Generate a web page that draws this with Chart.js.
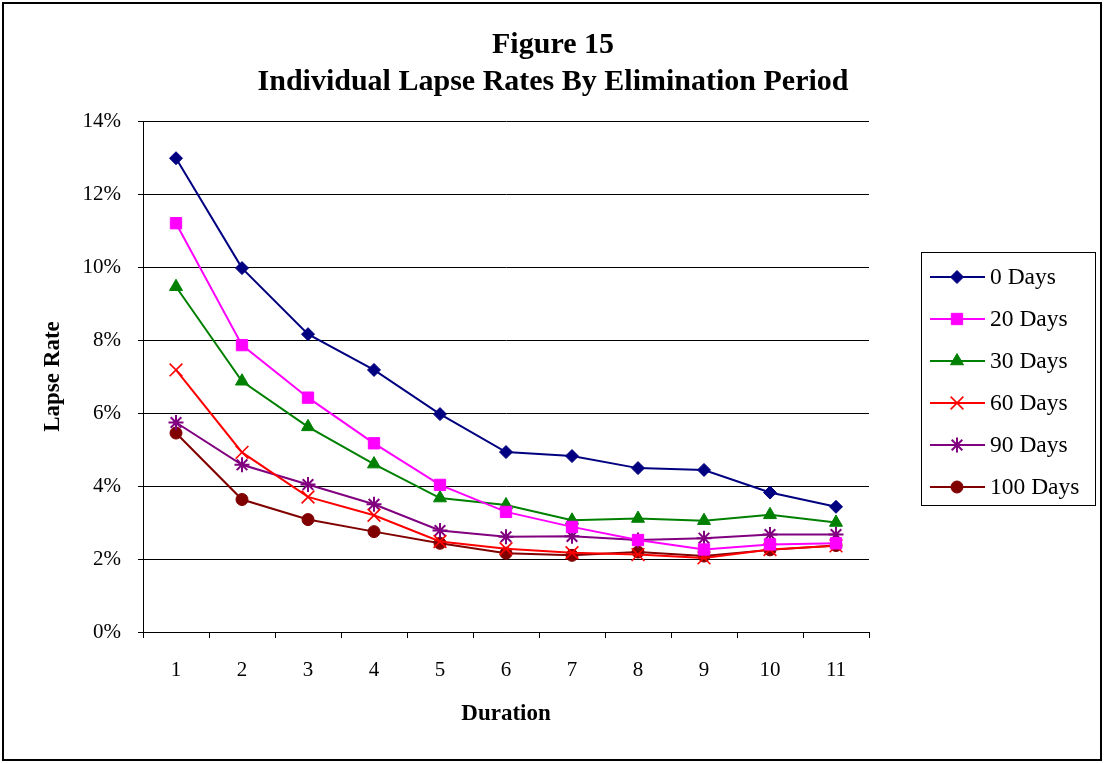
<!DOCTYPE html>
<html>
<head>
<meta charset="utf-8">
<script src="https://cdn.jsdelivr.net/npm/chart.js@4/dist/chart.umd.min.js"></script>
<style>
  html, body { margin: 0; padding: 0; background: #fff; }
  #wrap { width: 1104px; height: 763px; position: relative; }
</style>
</head>
<body>
<div id="wrap"><canvas id="c" width="1104" height="763"></canvas></div>
<script>
// Policy duration (years)
const durations = ['1', '2', '3', '4', '5', '6', '7', '8', '9', '10', '11'];

// Lapse rates (%) by elimination period
const days0   = [12.98, 9.97, 8.16, 7.18, 5.97, 4.93, 4.82, 4.49, 4.44, 3.82, 3.43];
const days20  = [11.20, 7.86, 6.42, 5.17, 4.03, 3.29, 2.88, 2.52, 2.26, 2.40, 2.43];
const days30  = [9.46, 6.87, 5.62, 4.60, 3.67, 3.48, 3.06, 3.11, 3.05, 3.21, 3.00];
const days60  = [7.18, 4.92, 3.70, 3.20, 2.48, 2.28, 2.17, 2.12, 2.03, 2.26, 2.36];
const days90  = [5.74, 4.58, 4.04, 3.50, 2.78, 2.61, 2.62, 2.52, 2.57, 2.67, 2.67];
const days100 = [5.45, 3.63, 3.08, 2.75, 2.43, 2.16, 2.10, 2.19, 2.08, 2.25, 2.37];

const seriesNames = ['0 Days', '20 Days', '30 Days', '60 Days', '90 Days', '100 Days'];
const yTicks = [0, 2, 4, 6, 8, 10, 12, 14];

const FONT = "'Liberation Serif', 'Times New Roman', serif";

const styles = [
  { color: '#000080', point: 'rectRot',  radius: 6.5, bw: 1 },
  { color: '#FF00FF', point: 'rect',     radius: 8,   bw: 1 },
  { color: '#008000', point: 'triangle', radius: 7.5, bw: 1 },
  { color: '#FF0000', point: 'crossRot', radius: 9,   bw: 1.6 },
  { color: '#800080', point: 'star',     radius: 7.5, bw: 2 },
  { color: '#800000', point: 'circle',   radius: 6,   bw: 1 }
];

const values = [days0, days20, days30, days60, days90, days100];

const datasets = values.map((v, i) => ({
  label: seriesNames[i],
  data: v,
  borderColor: styles[i].color,
  backgroundColor: styles[i].color,
  borderWidth: 2,
  pointStyle: styles[i].point,
  pointRadius: styles[i].radius,
  pointBorderWidth: styles[i].bw,
  pointBackgroundColor: styles[i].color,
  pointBorderColor: styles[i].color,
  tension: 0,
  fill: false
}));

// Frame, titles and boxed legend drawn around the chart area
const decor = {
  id: 'decor',
  beforeDraw(chart) {
    const ctx = chart.ctx;
    ctx.save();
    ctx.fillStyle = '#fff';
    ctx.fillRect(0, 0, chart.width, chart.height);
    ctx.strokeStyle = '#000';
    ctx.lineWidth = 2;
    ctx.strokeRect(3, 3, chart.width - 6, chart.height - 6);
    ctx.restore();
  },
  afterDraw(chart) {
    const ctx = chart.ctx;
    ctx.save();
    // titles
    ctx.fillStyle = '#000';
    ctx.textAlign = 'center';
    ctx.textBaseline = 'middle';
    ctx.font = 'bold 30px ' + FONT;
    ctx.fillText('Figure 15', 553, 45);
    ctx.fillText('Individual Lapse Rates By Elimination Period', 553, 82);

    // legend box
    const lx = 921, ly = 252, lw = 174, lh = 253;
    ctx.strokeStyle = '#000';
    ctx.lineWidth = 1;
    ctx.strokeRect(lx + 0.5, ly + 0.5, lw, lh);
    ctx.font = '23.5px ' + FONT;
    ctx.textAlign = 'left';
    chart.data.datasets.forEach((ds, i) => {
      const y = 277 + i * 42;
      ctx.strokeStyle = ds.borderColor;
      ctx.fillStyle = ds.borderColor;
      ctx.lineWidth = 2;
      ctx.beginPath();
      ctx.moveTo(930, y);
      ctx.lineTo(985, y);
      ctx.stroke();
      ctx.lineWidth = ds.pointBorderWidth;
      Chart.helpers.drawPoint(ctx, {
        pointStyle: ds.pointStyle,
        radius: ds.pointRadius,
        rotation: 0,
        borderWidth: ds.pointBorderWidth
      }, 957, y);
      ctx.fillStyle = '#000';
      ctx.textBaseline = 'middle';
      ctx.fillText(ds.label, 990, y + 1);
    });
    ctx.restore();
  }
};

new Chart(document.getElementById('c'), {
  type: 'line',
  data: { labels: durations, datasets },
  plugins: [decor],
  options: {
    responsive: false,
    animation: false,
    devicePixelRatio: 1,
    layout: { padding: { top: 121, right: 235, bottom: 10, left: 10 } },
    plugins: {
      legend: { display: false },
      title: { display: false },
      tooltip: { enabled: false }
    },
    scales: {
      x: {
        type: 'category',
        offset: true,
        afterFit(scale) { scale.height = 121; },
        grid: {
          display: true,
          offset: true,
          drawOnChartArea: false,
          drawTicks: true,
          tickLength: 6,
          color: '#000',
          lineWidth: 1
        },
        border: { display: true, color: '#000', width: 1 },
        ticks: {
          color: '#000',
          padding: 20,
          maxRotation: 0,
          font: { family: FONT, size: 21 }
        },
        title: {
          display: true,
          text: 'Duration',
          color: '#000',
          font: { family: FONT, size: 23, weight: 'bold' },
          padding: { top: 0, bottom: 25 }
        }
      },
      y: {
        min: 0,
        max: 14,
        afterFit(scale) { scale.width = 133; },
        afterBuildTicks(scale) { scale.ticks = yTicks.map(v => ({ value: v })); },
        grid: {
          display: true,
          color: '#000',
          lineWidth: 1,
          drawTicks: true,
          tickLength: 5
        },
        border: { display: true, color: '#000', width: 1 },
        ticks: {
          color: '#000',
          padding: 17,
          font: { family: FONT, size: 21 },
          callback: v => v + '%'
        },
        title: {
          display: true,
          text: 'Lapse Rate',
          color: '#000',
          font: { family: FONT, size: 23, weight: 'bold' },
          padding: { top: 29, bottom: 0 }
        }
      }
    }
  }
});
</script>
</body>
</html>
